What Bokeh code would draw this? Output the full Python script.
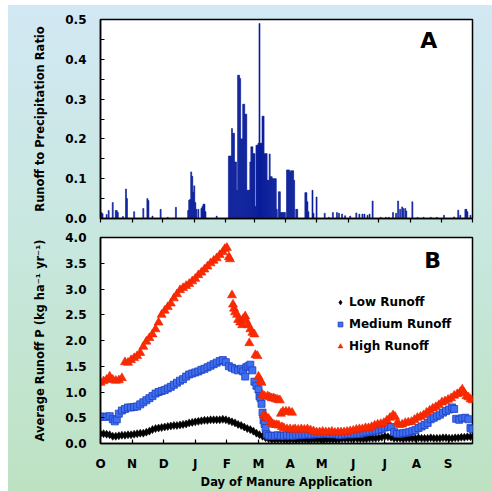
from bokeh.plotting import figure
from bokeh.layouts import column
from bokeh.models import FixedTicker, PrintfTickFormatter, Legend, LegendItem, Label
from bokeh.embed import file_html
from bokeh.resources import INLINE

# ---------------- data ----------------
# Panel A: daily runoff-to-precipitation ratio (day 0 = 1 Oct)
ratio_days = [1, 2, 6, 8, 12, 15, 16, 17, 22, 25, 26, 33, 42, 46, 47, 51, 59, 66, 74,
              86, 87, 88, 89, 90, 91, 92, 93, 94, 96, 99, 100, 101, 102, 103, 114,
              126, 127, 128, 129, 130, 131, 132, 133, 134, 135, 136, 137, 138, 139, 140,
              141, 142, 143, 144, 145, 146, 147, 148, 149, 150, 151, 152, 153, 154, 155,
              156, 157, 158, 159, 160, 161, 162, 163, 164, 165, 166, 167, 168, 169, 170,
              171, 172, 173, 175, 176, 177, 178, 179, 180, 181, 183, 184, 185, 186, 187,
              188, 189, 190, 192, 193, 201, 202, 203, 204, 208, 209, 212,
              220, 224, 228, 232, 234, 237, 240, 245, 251, 254, 257, 259, 262, 264, 267,
              275, 280, 283, 287, 290, 292, 294, 296, 297, 299, 300, 306, 311, 317, 324,
              330, 337, 347, 351, 353, 358, 359, 360, 363]
ratio_values = [0.015, 0.012, 0.010, 0.020, 0.040, 0.020, 0.020, 0.015, 0.005, 0.074, 0.050,
                0.017, 0.025, 0.050, 0.045, 0.006, 0.023, 0.003, 0.028,
                0.020, 0.046, 0.048, 0.117, 0.106, 0.066, 0.082, 0.040, 0.023, 0.023, 0.025,
                0.030, 0.036, 0.036, 0.017, 0.006,
                0.157, 0.157, 0.157, 0.226, 0.214, 0.214, 0.142, 0.142, 0.071, 0.360, 0.360,
                0.352, 0.200, 0.200, 0.287, 0.287, 0.262, 0.262, 0.071, 0.071, 0.071, 0.142,
                0.180, 0.180, 0.163, 0.163, 0.030, 0.184, 0.184, 0.189, 0.490, 0.189, 0.189,
                0.257, 0.257, 0.163, 0.163, 0.163, 0.096, 0.096, 0.162, 0.105, 0.105, 0.100,
                0.100, 0.100, 0.100, 0.023, 0.067, 0.067, 0.015, 0.015, 0.015, 0.015, 0.015,
                0.122, 0.122, 0.122, 0.117, 0.120, 0.120, 0.120, 0.096, 0.023, 0.023,
                0.065, 0.065, 0.042, 0.017, 0.071, 0.013, 0.054,
                0.013, 0.003, 0.015, 0.015, 0.013, 0.011, 0.007, 0.006, 0.014, 0.011, 0.011,
                0.011, 0.008, 0.011, 0.044, 0.003, 0.003, 0.003, 0.015, 0.013, 0.044, 0.023,
                0.029, 0.025, 0.025, 0.019, 0.042, 0.003, 0.003, 0.003, 0.003, 0.008, 0.004,
                0.021, 0.008, 0.023, 0.023, 0.017, 0.008]

# Panel B: average runoff P (kg/ha/yr) by day of manure application
low_days = [0, 3, 6, 9, 12, 15, 18, 21, 24, 27, 30, 33, 36, 39, 42, 45, 48, 51, 54, 57,
            60, 63, 66, 69, 72, 75, 78, 81, 84, 87, 90, 93, 96, 99, 102, 105, 108, 111,
            114, 117, 120, 123, 126, 129, 132, 135, 138, 141, 144, 147, 150, 153, 156,
            159, 162, 165, 168, 171, 174, 177, 180, 183, 186, 189, 192, 195, 198, 201,
            204, 207, 210, 213, 216, 219, 222, 225, 228, 231, 234, 237, 240, 243, 246,
            249, 252, 255, 258, 261, 264, 267, 270, 273, 276, 279, 282, 285, 288, 291,
            294, 297, 300, 303, 306, 309, 312, 315, 318, 321, 324, 327, 330, 333, 336,
            339, 342, 345, 348, 351, 354, 357, 360, 363]
low_values = [0.19, 0.19, 0.18, 0.17, 0.14, 0.14, 0.15, 0.16, 0.16, 0.17, 0.17, 0.18, 0.19,
              0.20, 0.20, 0.22, 0.24, 0.27, 0.29, 0.30, 0.31, 0.32, 0.33, 0.34, 0.35, 0.35,
              0.36, 0.37, 0.38, 0.40, 0.41, 0.42, 0.43, 0.44, 0.45, 0.45, 0.46, 0.46, 0.46,
              0.46, 0.47, 0.46, 0.44, 0.42, 0.40, 0.37, 0.35, 0.32, 0.29, 0.27, 0.24, 0.20,
              0.17, 0.14, 0.11, 0.09, 0.08, 0.08, 0.08, 0.08, 0.08, 0.07, 0.08, 0.08, 0.07,
              0.08, 0.08, 0.08, 0.07, 0.08, 0.08, 0.08, 0.08, 0.07, 0.08, 0.08, 0.08, 0.08,
              0.08, 0.09, 0.09, 0.09, 0.09, 0.10, 0.09, 0.09, 0.09, 0.09, 0.10, 0.10, 0.10,
              0.11, 0.12, 0.14, 0.13, 0.12, 0.10, 0.10, 0.10, 0.09, 0.10, 0.10, 0.10, 0.10,
              0.11, 0.10, 0.10, 0.10, 0.11, 0.10, 0.10, 0.10, 0.11, 0.11, 0.10, 0.10, 0.11,
              0.11, 0.12, 0.12, 0.13, 0.13]

med_days = [0, 3, 6, 9, 12, 14, 16, 18, 21, 24, 27, 30, 33, 36, 39, 42, 45, 48, 51, 54,
            57, 60, 63, 66, 69, 72, 75, 78, 81, 84, 87, 90, 93, 96, 99, 102, 105, 108, 111,
            114, 117, 120, 123, 126, 129, 132, 135, 138, 140, 142, 143, 145, 147, 149, 151,
            153, 155, 156, 157, 158, 159, 160, 161, 162, 163, 165, 168, 171, 174, 177, 180,
            183, 186, 189, 192, 195, 198, 201, 204, 207, 210, 213, 216, 219, 222, 225, 228,
            231, 234, 237, 240, 243, 246, 249, 252, 255, 258, 261, 264, 267, 270, 273, 276,
            279, 282, 285, 288, 291, 294, 297, 300, 303, 306, 309, 312, 315, 318, 321, 324,
            327, 330, 333, 336, 339, 342, 345, 347, 349, 352, 355, 358, 361, 363, 365]
med_values = [0.52, 0.52, 0.52, 0.53, 0.47, 0.43, 0.47, 0.58, 0.64, 0.67, 0.70, 0.70, 0.71,
              0.72, 0.76, 0.80, 0.84, 0.88, 0.92, 0.97, 1.00, 1.02, 1.04, 1.07, 1.10, 1.14,
              1.18, 1.22, 1.25, 1.30, 1.34, 1.36, 1.38, 1.40, 1.43, 1.45, 1.48, 1.51, 1.54,
              1.57, 1.60, 1.62, 1.58, 1.50, 1.47, 1.44, 1.42, 1.45, 1.40, 1.30, 1.48, 1.50,
              1.53, 1.42, 1.20, 1.12, 1.05, 0.92, 0.88, 0.77, 0.60, 0.45, 0.38, 0.30, 0.18,
              0.15, 0.15, 0.15, 0.16, 0.15, 0.15, 0.16, 0.15, 0.15, 0.16, 0.16, 0.17, 0.17,
              0.18, 0.17, 0.18, 0.18, 0.18, 0.19, 0.19, 0.18, 0.18, 0.18, 0.17, 0.17, 0.18,
              0.18, 0.18, 0.18, 0.19, 0.19, 0.21, 0.22, 0.23, 0.24, 0.25, 0.26, 0.28, 0.31,
              0.33, 0.32, 0.22, 0.19, 0.19, 0.20, 0.21, 0.22, 0.24, 0.26, 0.30, 0.33, 0.36,
              0.40, 0.47, 0.50, 0.53, 0.56, 0.60, 0.63, 0.66, 0.70, 0.67, 0.48, 0.46, 0.49,
              0.50, 0.47, 0.30, 0.28]

high_days = [0, 3, 6, 9, 12, 15, 18, 21, 24, 27, 30, 33, 36, 39, 42, 45, 48, 51, 54, 57,
             60, 63, 66, 69, 72, 75, 78, 81, 84, 87, 90, 93, 96, 99, 102, 105, 108, 111,
             114, 117, 120, 122, 124, 126, 127, 129, 130, 131, 132, 134, 135, 137, 139, 140,
             142, 143, 145, 146, 147, 149, 151, 152, 154, 155, 157, 158, 159, 160, 161, 162,
             163, 164, 165, 166, 167, 168, 169, 170, 171, 172, 173, 174, 175, 176, 177, 178,
             179, 180, 182, 183, 185, 186, 188, 189, 191, 194, 197, 200, 203, 206, 209, 212,
             215, 218, 221, 224, 227, 230, 233, 236, 239, 242, 245, 248, 251, 254, 257, 260,
             263, 266, 269, 272, 275, 278, 281, 284, 287, 289, 291, 293, 296, 299, 302, 305,
             308, 311, 314, 317, 320, 323, 326, 329, 332, 335, 338, 341, 344, 347, 350, 353,
             355, 357, 359, 361, 363, 365]
high_values = [1.18, 1.21, 1.24, 1.30, 1.24, 1.22, 1.23, 1.27, 1.58, 1.57, 1.62, 1.66, 1.70,
               1.76, 1.88, 1.98, 2.05, 2.12, 2.22, 2.35, 2.50, 2.58, 2.65, 2.72, 2.82, 2.90,
               2.98, 3.02, 3.06, 3.10, 3.15, 3.20, 3.27, 3.32, 3.38, 3.44, 3.50, 3.55, 3.60,
               3.66, 3.72, 3.78, 3.80, 3.62, 3.58, 2.88, 2.70, 2.62, 2.55, 2.50, 2.40, 2.35,
               2.30, 2.42, 2.47, 2.38, 2.30, 1.95, 2.22, 2.15, 2.12, 1.72, 1.70, 1.30, 1.22,
               1.18, 0.95, 0.55, 0.92, 0.52, 0.50, 0.92, 0.48, 0.90, 0.42, 0.88, 0.38, 0.88,
               0.36, 0.86, 0.36, 0.85, 0.35, 0.84, 0.58, 0.32, 0.62, 0.30, 0.62, 0.28, 0.62,
               0.28, 0.60, 0.27, 0.28, 0.27, 0.28, 0.27, 0.28, 0.26, 0.24, 0.22, 0.22, 0.23,
               0.22, 0.22, 0.23, 0.21, 0.22, 0.22, 0.22, 0.23, 0.24, 0.25, 0.27, 0.28, 0.28,
               0.30, 0.30, 0.32, 0.35, 0.37, 0.38, 0.40, 0.45, 0.50, 0.55, 0.52, 0.40, 0.36,
               0.37, 0.40, 0.41, 0.42, 0.46, 0.50, 0.52, 0.55, 0.60, 0.64, 0.68, 0.71, 0.75,
               0.80, 0.82, 0.85, 0.88, 0.93, 0.96, 1.00, 1.05, 0.98, 0.92, 0.90, 0.86, 0.84]

month_start_days = [0, 31, 61, 92, 123, 151, 182, 212, 243, 273, 304, 335, 365]
b_tick_days = [0, 31, 62, 93, 124, 155, 186, 217, 248, 279, 310, 341]
month_labels = ["O", "N", "D", "J", "F", "M", "A", "M", "J", "J", "A", "S"]
ratio_ticks = [0.0, 0.1, 0.2, 0.3, 0.4, 0.5]
ratio_minor = [0.05, 0.15, 0.25, 0.35, 0.45]
p_ticks = [0.0, 0.5, 1.0, 1.5, 2.0, 2.5, 3.0, 3.5, 4.0]

FONT = "DejaVu Sans"


def style_axes(p):
    p.xgrid.visible = False
    p.ygrid.visible = False
    for ax in (p.xaxis[0], p.yaxis[0]):
        ax.axis_line_color = "black"
        ax.axis_line_width = 1.5
        ax.major_tick_line_color = "black"
        ax.major_tick_line_width = 1.2
        ax.minor_tick_line_color = "black"
        ax.minor_tick_line_width = 1.2
        ax.major_label_text_font = FONT
        ax.major_label_text_font_style = "bold"
        ax.major_label_text_font_size = "12px"
        ax.major_label_text_color = "black"
        ax.axis_label_text_font = FONT
        ax.axis_label_text_font_style = "bold"
        ax.axis_label_text_font_size = "11.5px"
        ax.axis_label_text_color = "black"


# ---------------- panel A ----------------
pA = figure(width=484, height=221, x_range=(0, 365), y_range=(0, 0.5),
            output_backend="svg", toolbar_location=None,
            min_border_left=92, min_border_right=20, min_border_top=14, min_border_bottom=8,
            background_fill_color="white", border_fill_color=None,
            outline_line_color="black", outline_line_width=1.5)
pA.vbar(x=ratio_days, top=ratio_values, bottom=0, width=1.0,
        fill_color="#0a1e9a", line_color="#0a1e9a", line_width=0.6)
style_axes(pA)
pA.yaxis.ticker = FixedTicker(ticks=ratio_ticks, minor_ticks=ratio_minor)
pA.yaxis.formatter = PrintfTickFormatter(format="%.1f")
pA.yaxis.major_tick_in = 4
pA.yaxis.major_tick_out = 0
pA.yaxis.minor_tick_in = 4
pA.yaxis.minor_tick_out = 0
pA.yaxis.major_label_standoff = 14
pA.yaxis.axis_label = "Runoff to Precipitation Ratio"
pA.yaxis.axis_label_standoff = 15
pA.xaxis.ticker = FixedTicker(ticks=month_start_days, minor_ticks=[])
pA.xaxis.major_tick_in = 0
pA.xaxis.major_tick_out = 4
pA.xaxis.major_label_text_font_size = "0px"
pA.xaxis.major_label_text_color = None
pA.xaxis.major_label_standoff = 0
pA.add_layout(Label(x=322, y=0.448, text="A", text_font=FONT, text_font_style="bold",
                    text_font_size="22px", text_align="center", text_baseline="middle",
                    text_color="black"))

# ---------------- panel B ----------------
pB = figure(width=484, height=265, x_range=(0, 365), y_range=(0, 4.0),
            output_backend="svg", toolbar_location=None,
            min_border_left=92, min_border_right=20, min_border_top=11, min_border_bottom=44,
            background_fill_color="white", border_fill_color=None,
            outline_line_color="black", outline_line_width=1.5)
r_low = pB.scatter(low_days, low_values, marker="diamond", size=8,
                   fill_color="black", line_color="black", line_width=0.6)
r_med = pB.scatter(med_days, med_values, marker="square", size=7,
                   fill_color="#3f6ff0", line_color="#1c3fc0", line_width=0.8)
r_high = pB.scatter(high_days, high_values, marker="triangle", size=9,
                    fill_color="#ff2b00", line_color="#e62200", line_width=0.6)
style_axes(pB)
pB.yaxis.ticker = FixedTicker(ticks=p_ticks, minor_ticks=[])
pB.yaxis.formatter = PrintfTickFormatter(format="%.1f")
pB.yaxis.major_tick_in = 4
pB.yaxis.major_tick_out = 0
pB.yaxis.major_label_standoff = 14
pB.yaxis.axis_label = "Average Runoff P (kg ha\u207b\u00b9 yr\u207b\u00b9)"
pB.yaxis.axis_label_standoff = 15
pB.xaxis.ticker = FixedTicker(ticks=b_tick_days, minor_ticks=[])
pB.xaxis.major_label_overrides = {d: m for d, m in zip(b_tick_days, month_labels)}
pB.xaxis.major_tick_in = 4
pB.xaxis.major_tick_out = 0
pB.xaxis.major_label_standoff = 13
pB.xaxis.axis_label = "Day of Manure Application"
pB.xaxis.axis_label_standoff = 1

legend = Legend(items=[LegendItem(label="Low Runoff", renderers=[r_low]),
                       LegendItem(label="Medium Runoff", renderers=[r_med]),
                       LegendItem(label="High Runoff", renderers=[r_high])],
                location=(234, 86), orientation="vertical",
                border_line_color=None, background_fill_alpha=0,
                padding=0, margin=0, spacing=0,
                glyph_width=12, glyph_height=22, label_height=22, label_standoff=3,
                label_text_font=FONT, label_text_font_style="bold",
                label_text_font_size="12px", label_text_color="black")
pB.add_layout(legend)
pB.add_layout(Label(x=326, y=3.56, text="B", text_font=FONT, text_font_style="bold",
                    text_font_size="22px", text_align="center", text_baseline="middle",
                    text_color="black"))

layout = column(pA, pB, spacing=0,
                styles={"background": "linear-gradient(180deg, #d2e8f4 0%, #c8e7de 50%, #bde2c2 100%)",
                        "margin-left": "8px", "margin-top": "5px"})

open("out.html", "w").write(file_html(layout, INLINE, title="Runoff"))
